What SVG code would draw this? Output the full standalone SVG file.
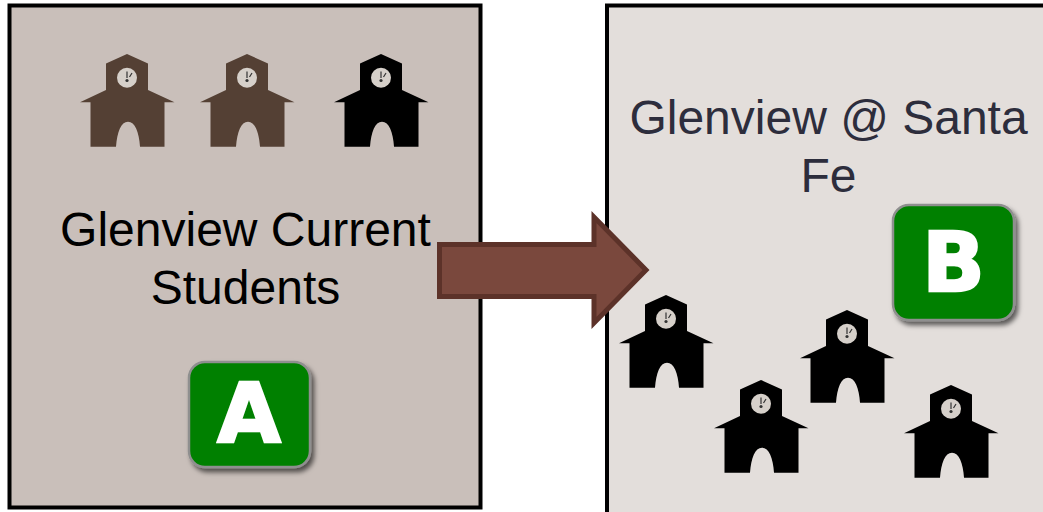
<svg xmlns="http://www.w3.org/2000/svg" width="1043" height="512" viewBox="0 0 1043 512">
<style>
text{font-family:"Liberation Sans",Arial,sans-serif;text-anchor:middle}
.lbl{font-size:48px}
.panel{stroke:#000;stroke-width:4}
.badge{fill:#008000;stroke:#8f8f8f;stroke-width:2.5;filter:url(#sh)}
.ltr{font-family:"DejaVu Sans",sans-serif;font-weight:700;font-size:82px;fill:#fff;stroke:#fff;stroke-width:2.5}
</style>
<defs>
<filter id="sh" x="-20%" y="-20%" width="150%" height="150%"><feDropShadow dx="3" dy="4" stdDeviation="2.5" flood-color="#000" flood-opacity=".6"/></filter>
<g id="school">
<path fill-rule="evenodd" d="M0 0L21 9.500V36L47.500 48.300H37.500V92.700H13C12 78 8 67.700 1 67.700C-6 67.700 -10 78 -11 92.700H-36.500V48.300H-47L-21 36V9.500Z"/>
<circle cx="0" cy="23.700" r="10" fill="#d6d0ca"/>
<path d="M0 17.500V24M5 19L2.500 23" stroke="#333" stroke-width="1.200" fill="none"/>
<circle cx="0" cy="26.500" r="1.600" fill="#333"/>
</g>
</defs>
<rect width="1043" height="512" fill="#fff"/>
<g id="panel-a">
<rect class="panel" x="9.500" y="5.500" width="471" height="502" fill="#c9bfba"/>
<text class="lbl" x="245.500" y="246" fill="#000">Glenview Current</text>
<text class="lbl" x="245.500" y="304" fill="#000">Students</text>
</g>
<g id="panel-b">
<rect class="panel" x="607" y="5.500" width="445" height="520" fill="#e3dedb"/>
<text class="lbl" x="828.500" y="134" fill="#2d2d3c">Glenview @ Santa</text>
<text class="lbl" x="828.500" y="192" fill="#2d2d3c">Fe</text>
</g>
<g id="schools-current">
<use href="#school" x="127" y="54" fill="#544034"/>
<use href="#school" x="247" y="54" fill="#544034"/>
<use href="#school" x="381" y="54" fill="#000"/>
</g>
<g id="schools-santa-fe">
<use href="#school" x="666" y="295" fill="#000"/>
<use href="#school" x="847" y="310" fill="#000"/>
<use href="#school" x="761" y="380" fill="#000"/>
<use href="#school" x="951" y="385" fill="#000"/>
</g>
<g id="badge-a">
<rect class="badge" x="189" y="362" width="121" height="105" rx="16"/>
<text class="ltr" x="249" y="442">A</text>
</g>
<g id="badge-b">
<rect class="badge" x="893" y="205" width="121" height="115" rx="16"/>
<text class="ltr" x="953.500" y="291">B</text>
</g>
<g id="connectors">
<path d="M439.500 244.500H594V217L646 270L594 323V296.500H439.500Z" fill="#7a483d" stroke="#5c3229" stroke-width="5"/>
</g>
</svg>
